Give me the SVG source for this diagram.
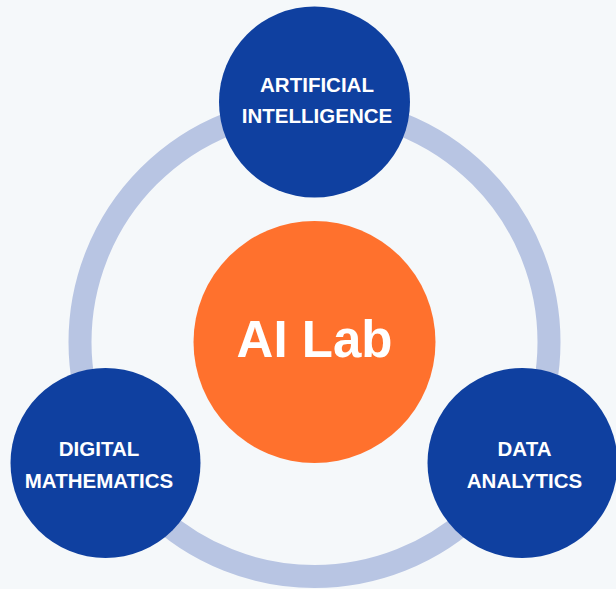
<svg xmlns="http://www.w3.org/2000/svg" width="616" height="589" viewBox="0 0 616 589">
  <style>
    .bg { fill: #f5f8fa; }
    .ring { fill: none; stroke: #b8c5e3; stroke-width: 23; }
    .sat { fill: #0f40a0; }
    .hub { fill: #ff712d; }
    .lbl { font-family: "Liberation Sans", Arial, sans-serif; font-weight: bold; fill: #ffffff; text-anchor: middle; }
    .small { font-size: 20.5px; }
    .big { font-size: 51px; }
  </style>
  <rect class="bg" x="0" y="0" width="616" height="589"/>
  <g id="connectors">
    <circle class="ring" cx="314.5" cy="342" r="234.5"/>
  </g>
  <g id="node-ai-lab">
    <circle class="hub" cx="314.5" cy="342" r="121"/>
    <text class="lbl big" x="314.5" y="357.3">AI Lab</text>
  </g>
  <g id="node-artificial-intelligence">
    <circle class="sat" cx="314.5" cy="102" r="95.5"/>
    <text class="lbl small" x="317" y="91.7">ARTIFICIAL</text>
    <text class="lbl small" x="317" y="123.3">INTELLIGENCE</text>
  </g>
  <g id="node-digital-mathematics">
    <circle class="sat" cx="105.5" cy="463" r="95"/>
    <text class="lbl small" x="99" y="455.7">DIGITAL</text>
    <text class="lbl small" x="99" y="487.7">MATHEMATICS</text>
  </g>
  <g id="node-data-analytics">
    <circle class="sat" cx="522.5" cy="463" r="95"/>
    <text class="lbl small" x="524.5" y="455.7">DATA</text>
    <text class="lbl small" x="524.5" y="487.7">ANALYTICS</text>
  </g>
</svg>
